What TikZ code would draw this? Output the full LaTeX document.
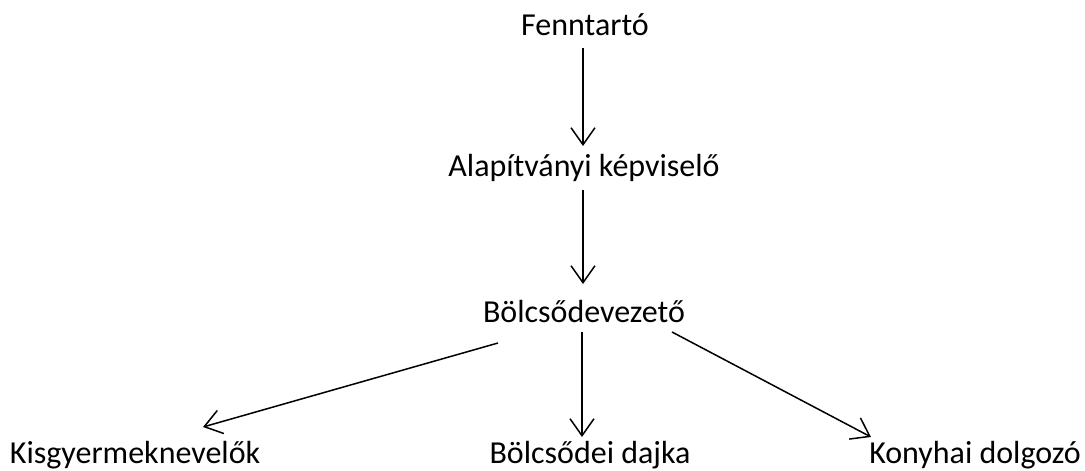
\documentclass[tikz,border=0pt]{standalone}
\usepackage{fontspec}
\setmainfont{Carlito}
\usetikzlibrary{arrows.meta}
\begin{document}
\begin{tikzpicture}[x=1pt,y=-1pt,
  lbl/.style={anchor=base,inner sep=0pt,font=\fontsize{32}{38}\selectfont},
  arr/.style={line width=1.5pt,-{Straight Barb[length=17pt,width=24pt,line width=1.5pt]}}]
\useasboundingbox (0,0) rectangle (1085,471);
\node[lbl] (f) at (585,35) {Fenntartó};
\node[lbl] (a) at (584,176) {Alapítványi képviselő};
\node[lbl] (b) at (584,322) {Bölcsődevezető};
\node[lbl] (k) at (135,463) {Kisgyermeknevelők};
\node[lbl] (d) at (590,463) {Bölcsődei dajka};
\node[lbl] (ko) at (975,463) {Konyhai dolgozó};
\draw[arr] ([shift={(-2,13)}]f.base) -- ([shift={(-1,-30)}]a.base);
\draw[arr] ([shift={(-1,14)}]a.base) -- ([shift={(-1,-38)}]b.base);
\draw[arr] ([shift={(-2,10)}]b.base) -- ([shift={(-8,-26)}]d.base);
\draw[arr] ([shift={(-86,21)}]b.base) -- ([shift={(68,-36)}]k.base);
\draw[arr] ([shift={(88,10)}]b.base) -- ([shift={(-104,-26)}]ko.base);
\end{tikzpicture}
\end{document}
